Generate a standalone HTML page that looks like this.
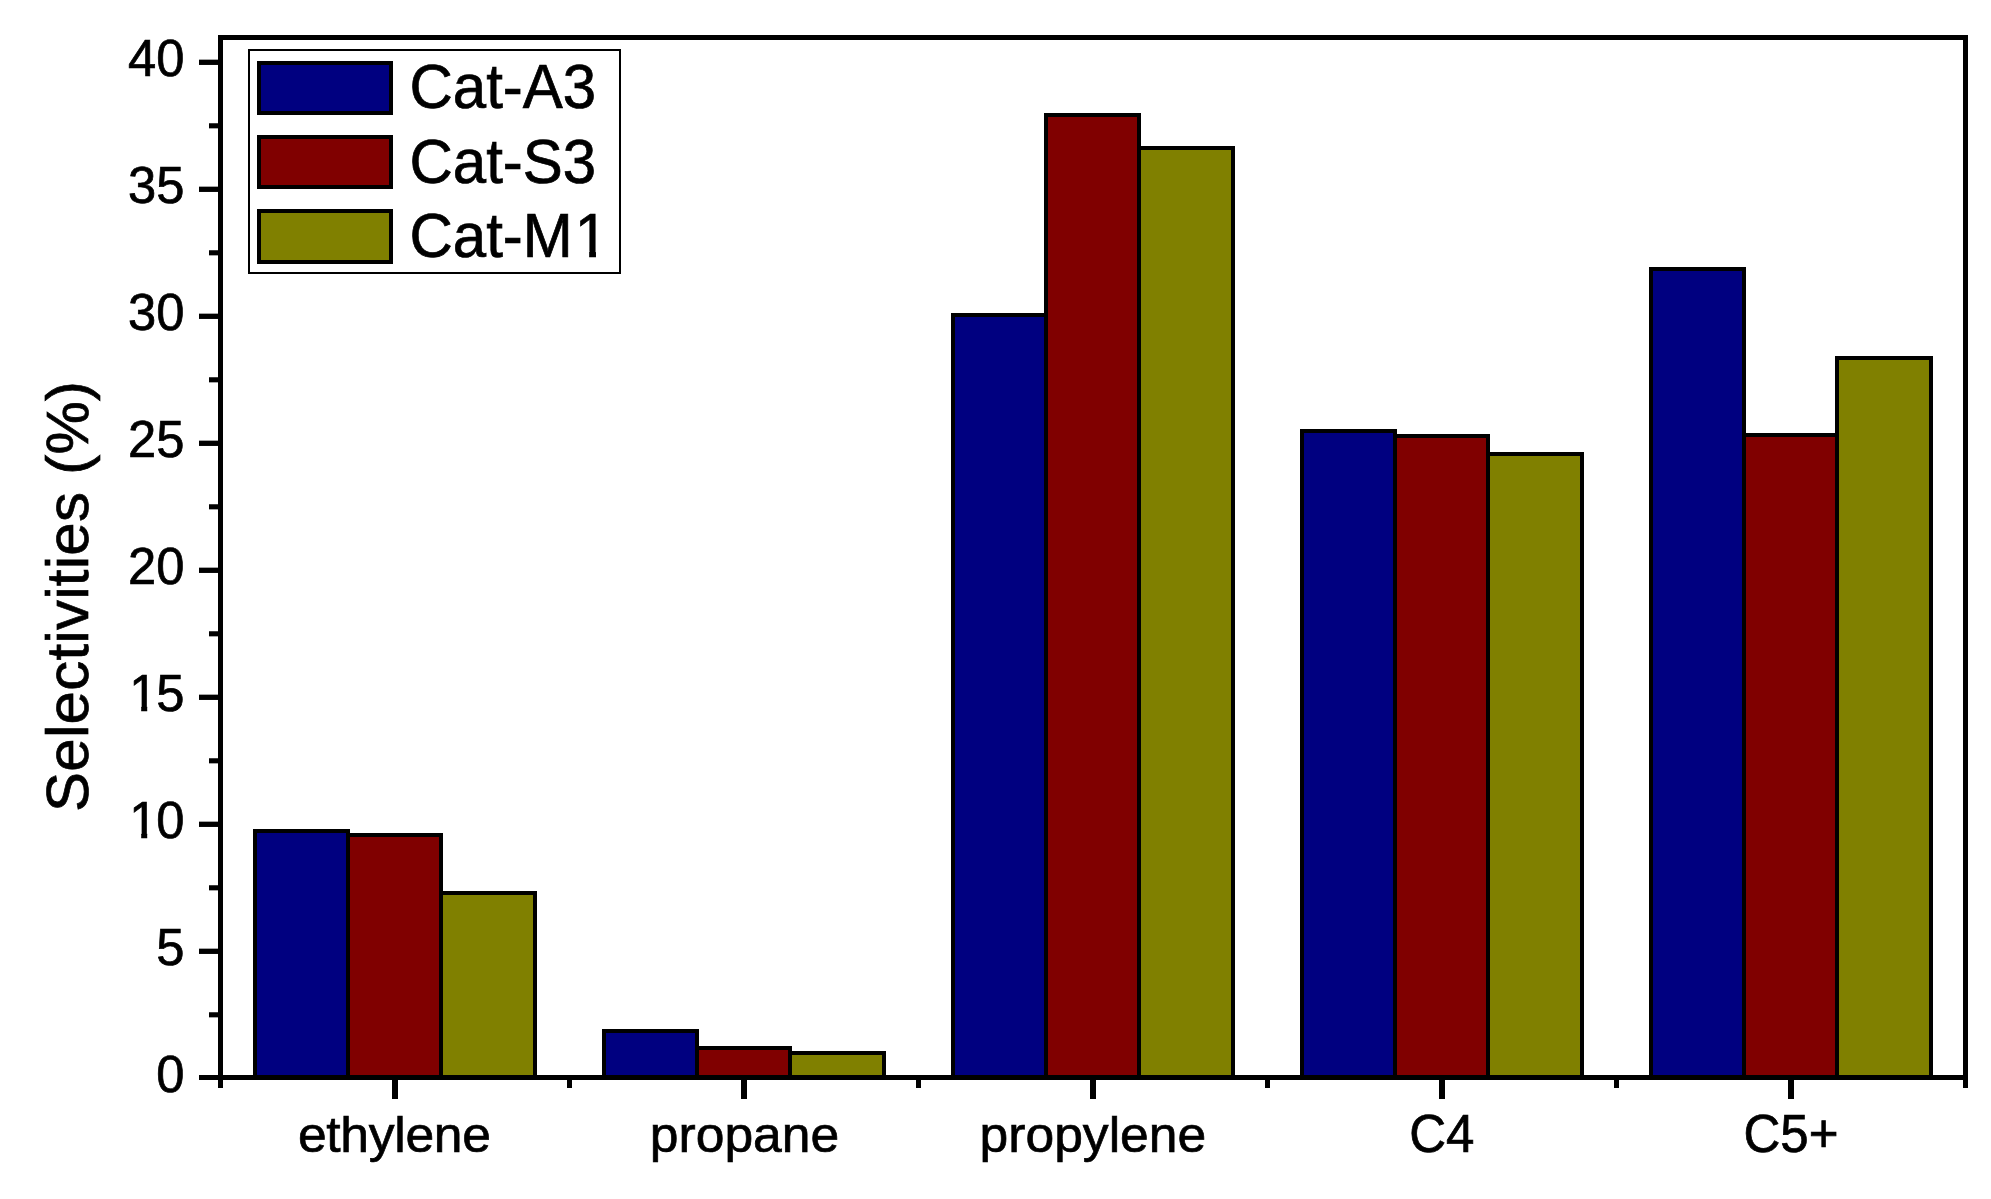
<!DOCTYPE html>
<html lang="en"><head><meta charset="utf-8"><title>Selectivities</title>
<style>html,body{margin:0;padding:0;background:#fff;}body{width:1991px;height:1199px;overflow:hidden;}svg{display:block;}text{font-family:"Liberation Sans",Arial,sans-serif;fill:#000;stroke:#000;stroke-width:0.7px;}</style>
</head><body>
<svg width="1991" height="1199" viewBox="0 0 1991 1199" shape-rendering="crispEdges">
<rect x="0" y="0" width="1991" height="1199" fill="#fff"/>
<g id="bars">
<rect x="253" y="829" width="97" height="249" fill="#000"/>
<rect x="257" y="833" width="89" height="245" fill="#000080"/>
<rect x="346" y="833" width="97" height="245" fill="#000"/>
<rect x="350" y="837" width="89" height="241" fill="#800000"/>
<rect x="439" y="891" width="98" height="187" fill="#000"/>
<rect x="443" y="895" width="90" height="183" fill="#808000"/>
<rect x="602" y="1029" width="97" height="49" fill="#000"/>
<rect x="606" y="1033" width="89" height="45" fill="#000080"/>
<rect x="695" y="1046" width="97" height="32" fill="#000"/>
<rect x="699" y="1050" width="89" height="28" fill="#800000"/>
<rect x="788" y="1051" width="98" height="27" fill="#000"/>
<rect x="792" y="1055" width="90" height="23" fill="#808000"/>
<rect x="951" y="313" width="97" height="765" fill="#000"/>
<rect x="955" y="317" width="89" height="761" fill="#000080"/>
<rect x="1044" y="113" width="97" height="965" fill="#000"/>
<rect x="1048" y="117" width="89" height="961" fill="#800000"/>
<rect x="1137" y="146" width="98" height="932" fill="#000"/>
<rect x="1141" y="150" width="90" height="928" fill="#808000"/>
<rect x="1300" y="429" width="97" height="649" fill="#000"/>
<rect x="1304" y="433" width="89" height="645" fill="#000080"/>
<rect x="1393" y="434" width="97" height="644" fill="#000"/>
<rect x="1397" y="438" width="89" height="640" fill="#800000"/>
<rect x="1486" y="452" width="98" height="626" fill="#000"/>
<rect x="1490" y="456" width="90" height="622" fill="#808000"/>
<rect x="1649" y="267" width="97" height="811" fill="#000"/>
<rect x="1653" y="271" width="89" height="807" fill="#000080"/>
<rect x="1742" y="433" width="97" height="645" fill="#000"/>
<rect x="1746" y="437" width="89" height="641" fill="#800000"/>
<rect x="1835" y="356" width="98" height="722" fill="#000"/>
<rect x="1839" y="360" width="90" height="718" fill="#808000"/>
</g>
<g id="frame">
<rect x="218" y="35" width="1750" height="5" fill="#000"/>
<rect x="218" y="35" width="5" height="1053" fill="#000"/>
<rect x="1963" y="35" width="5" height="1053" fill="#000"/>
<rect x="199" y="1075" width="1769" height="5" fill="#000"/>
</g>
<g id="yticks" shape-rendering="geometricPrecision">
<rect x="199" y="948.65" width="20" height="5.300000000000068" fill="#000"/>
<rect x="199" y="821.65" width="20" height="5.300000000000068" fill="#000"/>
<rect x="199" y="694.65" width="20" height="5.300000000000068" fill="#000"/>
<rect x="199" y="567.65" width="20" height="5.300000000000068" fill="#000"/>
<rect x="199" y="440.65" width="20" height="5.300000000000011" fill="#000"/>
<rect x="199" y="313.65" width="20" height="5.300000000000011" fill="#000"/>
<rect x="199" y="186.65" width="20" height="5.299999999999983" fill="#000"/>
<rect x="199" y="59.65" width="20" height="5.300000000000004" fill="#000"/>
<rect x="209" y="1012.25" width="10" height="5.100000000000023" fill="#000"/>
<rect x="209" y="885.25" width="10" height="5.100000000000023" fill="#000"/>
<rect x="209" y="758.25" width="10" height="5.100000000000023" fill="#000"/>
<rect x="209" y="631.25" width="10" height="5.100000000000023" fill="#000"/>
<rect x="209" y="504.25" width="10" height="5.100000000000023" fill="#000"/>
<rect x="209" y="377.25" width="10" height="5.100000000000023" fill="#000"/>
<rect x="209" y="250.25" width="10" height="5.099999999999994" fill="#000"/>
<rect x="209" y="123.25" width="10" height="5.099999999999994" fill="#000"/>
</g>
<g id="xticks">
<rect x="392" y="1079" width="6" height="20" fill="#000"/>
<rect x="741" y="1079" width="6" height="20" fill="#000"/>
<rect x="1090" y="1079" width="6" height="20" fill="#000"/>
<rect x="1439" y="1079" width="6" height="20" fill="#000"/>
<rect x="1788" y="1079" width="6" height="20" fill="#000"/>
<rect x="567" y="1079" width="5" height="9" fill="#000"/>
<rect x="916" y="1079" width="5" height="9" fill="#000"/>
<rect x="1265" y="1079" width="5" height="9" fill="#000"/>
<rect x="1614" y="1079" width="5" height="9" fill="#000"/>
</g>
<g id="ylabels" font-size="50.7" text-anchor="end">
<text transform="translate(184.5,1091.6) scale(1,1.03)">0</text>
<text transform="translate(184.5,964.6) scale(1,1.03)">5</text>
<clipPath id="c1_1"><rect x="118.11" y="771.69" width="99.41" height="61.05"/><rect x="118.11" y="832.24" width="13.21" height="25.64"/><rect x="141.21" y="832.24" width="5.98" height="25.64"/><rect x="156.68" y="832.24" width="60.84" height="25.64"/></clipPath>
<g clip-path="url(#c1_1)"><text text-anchor="start" font-size="50.7" transform="translate(128.11,837.6) scale(1,1.03)"><tspan dx="1.1">1</tspan><tspan dx="-1.1">0</tspan></text></g>
<clipPath id="c1_2"><rect x="118.11" y="644.69" width="99.41" height="61.05"/><rect x="118.11" y="705.24" width="13.21" height="25.64"/><rect x="141.21" y="705.24" width="5.98" height="25.64"/><rect x="156.68" y="705.24" width="60.84" height="25.64"/></clipPath>
<g clip-path="url(#c1_2)"><text text-anchor="start" font-size="50.7" transform="translate(128.11,710.6) scale(1,1.03)"><tspan dx="1.1">1</tspan><tspan dx="-1.1">5</tspan></text></g>
<text transform="translate(184.5,583.6) scale(1,1.03)">20</text>
<text transform="translate(184.5,456.6) scale(1,1.03)">25</text>
<text transform="translate(184.5,329.6) scale(1,1.03)">30</text>
<text transform="translate(184.5,202.6) scale(1,1.03)">35</text>
<text transform="translate(184.5,75.6) scale(1,1.03)">40</text>
</g>
<g id="xlabels" font-size="51.6" text-anchor="middle">
<text transform="translate(394.4,1152) scale(1,0.985)" textLength="193" lengthAdjust="spacing">ethylene</text>
<text transform="translate(744.5,1152) scale(1,0.985)">propane</text>
<text transform="translate(1092.9,1152) scale(1,0.985)">propylene</text>
<text font-size="51" transform="translate(1441.8,1152) scale(1,1.04)">C4</text>
<text font-size="51" transform="translate(1791,1152) scale(1,1.04)">C5+</text>
</g>
<text id="ytitle" font-size="60" transform="translate(87.5,812) rotate(-90)" x="0" y="0" textLength="431" lengthAdjust="spacing">Selectivities (%)</text>
<g id="legend">
<rect x="248" y="49" width="373" height="225" fill="#000"/>
<rect x="250" y="51" width="369" height="221" fill="#fff"/>
<rect x="257" y="61" width="136" height="54" fill="#000"/>
<rect x="261" y="65" width="128" height="46" fill="#000080"/>
<text transform="translate(409.5,108) scale(1,1.035)" font-size="60">Cat-A3</text>
<rect x="257" y="135" width="136" height="54" fill="#000"/>
<rect x="261" y="139" width="128" height="46" fill="#800000"/>
<text transform="translate(409.5,182.5) scale(1,1.035)" font-size="60">Cat-S3</text>
<rect x="257" y="209" width="136" height="55" fill="#000"/>
<rect x="261" y="213" width="128" height="47" fill="#808000"/>
<clipPath id="c1_3"><rect x="399.50" y="178.50" width="279.52" height="72.40"/><rect x="399.50" y="250.40" width="178.15" height="30.10"/><rect x="589.17" y="250.40" width="6.80" height="30.10"/><rect x="607.02" y="250.40" width="72.00" height="30.10"/></clipPath>
<g clip-path="url(#c1_3)"><text text-anchor="start" font-size="60" transform="translate(409.50,256.5) scale(1,1.035)">Cat-M<tspan dx="2.0">1</tspan></text></g>
</g>
</svg>
</body></html>
